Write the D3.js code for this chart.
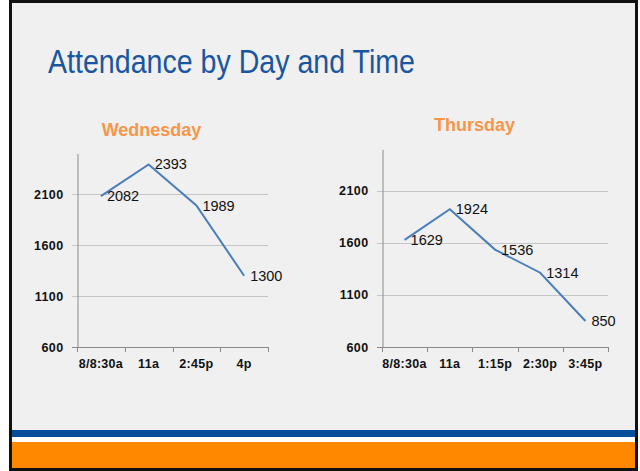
<!DOCTYPE html>
<html>
<head>
<meta charset="utf-8">
<script src="https://cdn.jsdelivr.net/npm/d3@7"></script>
<style>
  body { margin: 0; background: #ffffff; }
  svg { display: block; }
</style>
</head>
<body>
<div id="slide"></div>
<script>
////////////////////////////////////////////////////////////////////////
// Data

const slideTitle = "Attendance by Day and Time";

const wedTitle = "Wednesday";
const wedTimes = ["8/8:30a", "11a", "2:45p", "4p"];
const wedCounts = [2082, 2393, 1989, 1300];

const thuTitle = "Thursday";
const thuTimes = ["8/8:30a", "11a", "1:15p", "2:30p", "3:45p"];
const thuCounts = [1629, 1924, 1536, 1314, 850];

const yTicks = [600, 1100, 1600, 2100];
const yDomain = [600, 2500];

////////////////////////////////////////////////////////////////////////
// Layout

const width = 640, height = 471;

const svg = d3.select("#slide")
  .append("svg")
  .attr("width", width)
  .attr("height", height);

// slide background + frame
svg.append("rect")
  .attr("x", 10.5).attr("y", 1.5)
  .attr("width", 626).attr("height", 468)
  .attr("fill", "#f0f0f0");

// bottom stripes
svg.append("rect").attr("x", 12).attr("y", 430).attr("width", 624).attr("height", 7).attr("fill", "#034d9b");
svg.append("rect").attr("x", 12).attr("y", 437).attr("width", 624).attr("height", 5).attr("fill", "#ffffff");
svg.append("rect").attr("x", 12).attr("y", 442).attr("width", 624).attr("height", 27).attr("fill", "#ff8800");

svg.append("rect")
  .attr("x", 10.5).attr("y", 1.5)
  .attr("width", 626).attr("height", 468)
  .attr("fill", "none")
  .attr("stroke", "#111")
  .attr("stroke-width", 3);

// title
svg.append("text")
  .attr("x", 48)
  .attr("y", 73)
  .attr("textLength", 367)
  .attr("lengthAdjust", "spacingAndGlyphs")
  .style("font-family", "'Liberation Sans Narrow', 'Liberation Sans', Arial, sans-serif")
  .style("font-size", "33px")
  .style("fill", "#1a56a0")
  .text(slideTitle);

////////////////////////////////////////////////////////////////////////
// One small line chart

function drawChart(cfg) {
  const g = svg.append("g");

  const x = d3.scaleBand()
    .domain(cfg.times)
    .range([cfg.left, cfg.right]);

  const y = d3.scaleLinear()
    .domain(yDomain)
    .range([cfg.bottom, cfg.top]);

  // chart heading
  g.append("text")
    .attr("x", cfg.titleX)
    .attr("y", cfg.titleY)
    .attr("text-anchor", "middle")
    .style("font-family", "'Liberation Sans', Arial, sans-serif")
    .style("font-weight", "bold")
    .style("font-size", "18px")
    .style("fill", "#f7964a")
    .text(cfg.title);

  // gridlines (600 is the x axis itself)
  g.selectAll(".grid")
    .data(yTicks.filter(d => d !== yDomain[0]))
    .join("line")
    .attr("class", "grid")
    .attr("x1", cfg.left - 5)
    .attr("x2", cfg.right)
    .attr("y1", d => Math.round(y(d)) + 0.5)
    .attr("y2", d => Math.round(y(d)) + 0.5)
    .attr("stroke", "#c6c6c6")
    .attr("stroke-width", 1);

  // y axis
  const yAxis = g.append("g")
    .attr("transform", `translate(${Math.round(cfg.left) + 0.5},0)`)
    .call(d3.axisLeft(y)
      .tickValues(yTicks)
      .tickFormat(d3.format("d"))
      .tickSizeInner(0).tickSizeOuter(0).tickPadding(14));
  yAxis.select(".domain").attr("stroke", "#8a8a8a");
  yAxis.selectAll("text")
    .style("font-family", "'Liberation Sans', Arial, sans-serif")
    .style("font-weight", "bold")
    .style("font-size", "12.5px")
    .style("letter-spacing", "0.4px")
    .style("fill", "#111");

  // x axis line
  g.append("line")
    .attr("x1", cfg.left - 5)
    .attr("x2", cfg.right)
    .attr("y1", Math.round(cfg.bottom) + 0.5)
    .attr("y2", Math.round(cfg.bottom) + 0.5)
    .attr("stroke", "#8a8a8a");

  // tick marks at band edges
  const edges = d3.range(cfg.times.length + 1).map(i => cfg.left + i * x.bandwidth());
  g.selectAll(".xtick")
    .data(edges)
    .join("line")
    .attr("class", "xtick")
    .attr("x1", d => Math.round(d) + 0.5)
    .attr("x2", d => Math.round(d) + 0.5)
    .attr("y1", cfg.bottom)
    .attr("y2", cfg.bottom + 5)
    .attr("stroke", "#8a8a8a");

  // category labels
  g.selectAll(".xlab")
    .data(cfg.times)
    .join("text")
    .attr("class", "xlab")
    .attr("x", d => x(d) + x.bandwidth() / 2)
    .attr("y", cfg.bottom + 21)
    .attr("text-anchor", "middle")
    .style("font-family", "'Liberation Sans', Arial, sans-serif")
    .style("font-weight", "bold")
    .style("font-size", "12.5px")
    .style("letter-spacing", "0.3px")
    .style("fill", "#111")
    .text(d => d);

  // the line
  const pts = cfg.times.map((t, i) => [x(t) + x.bandwidth() / 2, y(cfg.counts[i])]);
  g.append("path")
    .datum(pts)
    .attr("fill", "none")
    .attr("stroke", "#4a7ebb")
    .attr("stroke-width", 2)
    .attr("d", d3.line());

  // data labels to the right of each point
  g.selectAll(".dlab")
    .data(cfg.counts)
    .join("text")
    .attr("class", "dlab")
    .attr("x", (d, i) => pts[i][0] + 6)
    .attr("y", (d, i) => pts[i][1] + 5)
    .style("font-family", "'Liberation Sans', Arial, sans-serif")
    .style("font-size", "14.5px")
    .style("fill", "#111")
    .text(d => d);
}

drawChart({
  title: wedTitle, times: wedTimes, counts: wedCounts,
  left: 77, right: 268, top: 153.5, bottom: 347,
  titleX: 151.5, titleY: 136
});

drawChart({
  title: thuTitle, times: thuTimes, counts: thuCounts,
  left: 382, right: 608, top: 149.3, bottom: 347,
  titleX: 474.5, titleY: 130.5
});
</script>
</body>
</html>
